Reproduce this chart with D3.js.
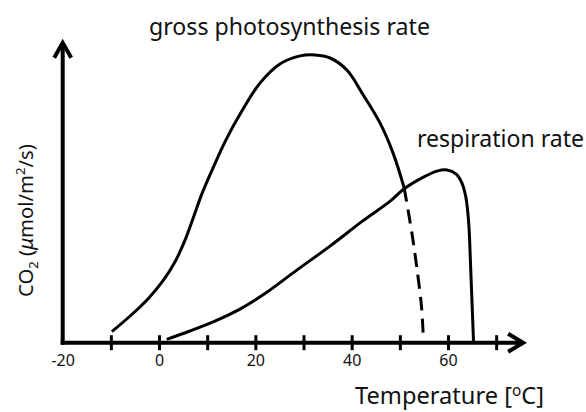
<!DOCTYPE html>
<html>
<head>
<meta charset="utf-8">
<script src="https://cdn.jsdelivr.net/npm/d3@7"></script>
<style>
  body { margin: 0; background: #fff; }
  text { font-family: "Noto Sans", "Open Sans", sans-serif; fill: #111; }
</style>
</head>
<body>
<script>
// curve data: [temperature degC, rate (arbitrary units)]
var photoSolid = [
  [-9.8, 3.7], [-6.0, 8.9], [-2.3, 14.6], [0.8, 20.6], [3.3, 26.9],
  [5.4, 34.2], [7.1, 41.6], [8.9, 49.6], [11.2, 58.2], [13.9, 67.6],
  [17.2, 77.2], [21.0, 86.6], [25.1, 92.9], [29.3, 95.6], [32.4, 95.9],
  [35.5, 94.9], [39.0, 90.9], [42.4, 82.6], [45.9, 73.2], [48.6, 63.2],
  [50.9, 51.6]
];
var photoDashed = [
  [50.9, 51.6], [52.5, 36.6], [53.5, 25.3], [54.5, 12.0], [54.9, 0.9]
];
var respiration = [
  [1.6, 1.1], [6.4, 3.9], [11.6, 7.2], [16.8, 11.2], [22.0, 16.4],
  [28.6, 24.2], [35.5, 32.2], [42.3, 40.6], [48.0, 47.2], [50.9, 51.3],
  [54.8, 55.1], [57.7, 57.2], [59.8, 57.6], [61.7, 56.2], [62.9, 53.2],
  [63.7, 48.6], [64.3, 39.9], [64.7, 25.2], [65.3, 0.3]
];
var tickMarks = [-10, 0, 10, 20, 30, 40, 50, 60, 70];
var tickLabels = [-20, 0, 20, 40, 60];
var xMin = -20, xArrowEnd = 75.6, yArrowEnd = 100;

var W = 586, H = 412;
var svg = d3.select("body").append("svg")
  .attr("width", W).attr("height", H);

var x = d3.scaleLinear().domain([-20, 60]).range([62.7, 448]);
var y = d3.scaleLinear().domain([0, 100]).range([342.7, 42.7]);

// fit a text element to a pixel width by scaling its font size
function fitText(t, width) {
  var fs = parseFloat(t.attr("font-size"));
  var len = t.node().getComputedTextLength();
  t.attr("font-size", (fs * width / len).toFixed(2));
}

// ---- axes ----
var ax = svg.append("g");
ax.append("line")
  .attr("x1", x(xMin) - 2).attr("x2", x(xArrowEnd) - 2)
  .attr("y1", y(0)).attr("y2", y(0))
  .attr("stroke", "#000").attr("stroke-width", 4);
ax.append("line")
  .attr("x1", x(xMin)).attr("x2", x(xMin))
  .attr("y1", y(0) + 2).attr("y2", y(yArrowEnd) + 2)
  .attr("stroke", "#000").attr("stroke-width", 4);

// arrow heads (open chevrons)
var xt = x(xArrowEnd), yt = y(yArrowEnd);
ax.append("path")
  .attr("d", "M" + (xt - 15) + "," + (y(0) - 9) + "L" + xt + "," + y(0) + "L" + (xt - 15) + "," + (y(0) + 9))
  .attr("fill", "none").attr("stroke", "#000").attr("stroke-width", 4);
ax.append("path")
  .attr("d", "M" + (x(xMin) - 8.5) + "," + (yt + 15) + "L" + x(xMin) + "," + yt + "L" + (x(xMin) + 8.5) + "," + (yt + 15))
  .attr("fill", "none").attr("stroke", "#000").attr("stroke-width", 4);

// tick marks crossing the axis
var tickAxis = svg.append("g")
  .attr("transform", "translate(0," + y(0) + ")")
  .call(d3.axisBottom(x).tickValues(tickMarks).tickSize(7.5).tickFormat(""));
tickAxis.select(".domain").remove();
tickAxis.selectAll(".tick line")
  .attr("y1", -7.5).attr("stroke", "#000").attr("stroke-width", 3);

// tick labels (plain hyphen for negatives, like the reference)
var labelAxis = svg.append("g")
  .attr("transform", "translate(0," + y(0) + ")")
  .call(d3.axisBottom(x).tickValues(tickLabels).tickSize(0).tickPadding(12.4)
    .tickFormat(d => String(d)));
labelAxis.select(".domain").remove();
labelAxis.selectAll(".tick text")
  .attr("font-size", 16)
  .attr("font-family", "Noto Sans, Open Sans, sans-serif")
  .attr("fill", "#111");

// ---- curves ----
var line = d3.line()
  .x(d => x(d[0])).y(d => y(d[1]))
  .curve(d3.curveCatmullRom.alpha(0.5));

svg.append("path").datum(photoSolid)
  .attr("d", line).attr("fill", "none")
  .attr("stroke", "#000").attr("stroke-width", 3);
svg.append("path").datum(photoDashed)
  .attr("d", line).attr("fill", "none")
  .attr("stroke", "#000").attr("stroke-width", 3)
  .attr("stroke-dasharray", "14,8");
svg.append("path").datum(respiration)
  .attr("d", line).attr("fill", "none")
  .attr("stroke", "#000").attr("stroke-width", 3);

// ---- labels ----
var t1 = svg.append("text")
  .attr("x", 149).attr("y", 35).attr("font-size", 22)
  .text("gross photosynthesis rate");
fitText(t1, 281);

var t2 = svg.append("text")
  .attr("x", 417).attr("y", 147).attr("font-size", 22)
  .text("respiration rate");
fitText(t2, 167);

var t3 = svg.append("text")
  .attr("x", 355).attr("y", 404).attr("font-size", 22);
t3.append("tspan").text("Temperature [");
t3.append("tspan").attr("font-size", "65%").attr("dy", -8).text("o");
t3.append("tspan").attr("dy", 8).text("C]");
fitText(t3, 189);

var t4 = svg.append("text")
  .attr("transform", "translate(33,297) rotate(-90)")
  .attr("font-size", 20);
t4.append("tspan").text("CO");
t4.append("tspan").attr("font-size", "65%").attr("dy", 5).text("2");
t4.append("tspan").attr("dy", -5).text(" (");
t4.append("tspan").attr("font-style", "italic").text("\u03bc");
t4.append("tspan").text("mol/m");
t4.append("tspan").attr("font-size", "65%").attr("dy", -8).text("2");
t4.append("tspan").attr("dy", 8).text("/s)");
fitText(t4, 153);
</script>
</body>
</html>
